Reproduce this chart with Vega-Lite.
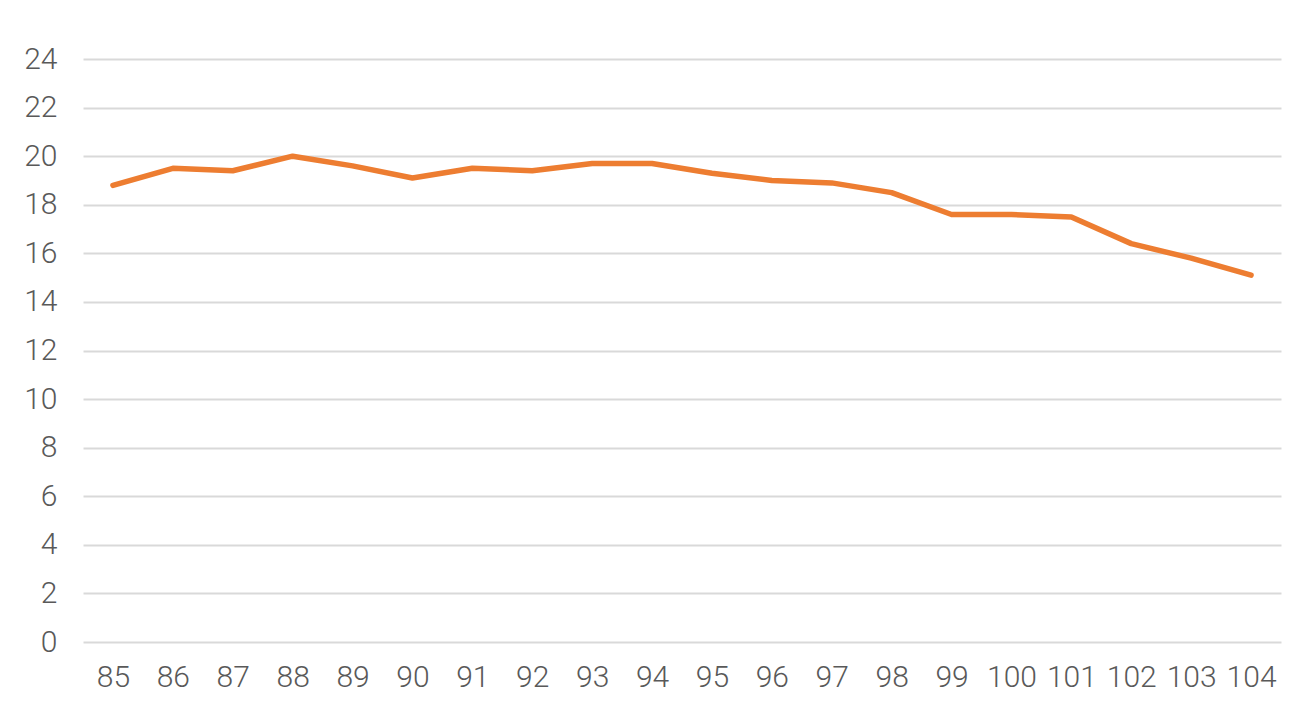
{
  "$schema": "https://vega.github.io/schema/vega-lite/v6.json",
  "width": 1198,
  "height": 583,
  "autosize": {"type": "none"},
  "padding": {"left": 83, "top": 59, "right": 32, "bottom": 65},
  "background": "white",
  "config": {
    "view": {"stroke": null},
    "font": "Roboto",
    "axis": {
      "labelFont": "Roboto",
      "labelFontSize": 30,
      "labelFontWeight": 300,
      "labelColor": "#595959",
      "domain": false,
      "ticks": false,
      "title": null
    }
  },
  "data": {
    "values": [
      {"year": "85", "value": 18.8},
      {"year": "86", "value": 19.5},
      {"year": "87", "value": 19.4},
      {"year": "88", "value": 20.0},
      {"year": "89", "value": 19.6},
      {"year": "90", "value": 19.1},
      {"year": "91", "value": 19.5},
      {"year": "92", "value": 19.4},
      {"year": "93", "value": 19.7},
      {"year": "94", "value": 19.7},
      {"year": "95", "value": 19.3},
      {"year": "96", "value": 19.0},
      {"year": "97", "value": 18.9},
      {"year": "98", "value": 18.5},
      {"year": "99", "value": 17.6},
      {"year": "100", "value": 17.6},
      {"year": "101", "value": 17.5},
      {"year": "102", "value": 16.4},
      {"year": "103", "value": 15.8},
      {"year": "104", "value": 15.1}
    ]
  },
  "mark": {"type": "line", "color": "#ed7d31", "strokeWidth": 5.5, "strokeCap": "round", "strokeJoin": "round"},
  "encoding": {
    "x": {
      "field": "year",
      "type": "ordinal",
      "sort": null,
      "scale": {"type": "point", "padding": 0.5},
      "axis": {"labelAngle": 0, "labelPadding": 20, "grid": false}
    },
    "y": {
      "field": "value",
      "type": "quantitative",
      "scale": {"domain": [0, 24], "nice": false},
      "axis": {
        "values": [0, 2, 4, 6, 8, 10, 12, 14, 16, 18, 20, 22, 24],
        "labelPadding": 26,
        "grid": true,
        "gridColor": "#d9d9d9",
        "gridWidth": 2
      }
    }
  }
}
